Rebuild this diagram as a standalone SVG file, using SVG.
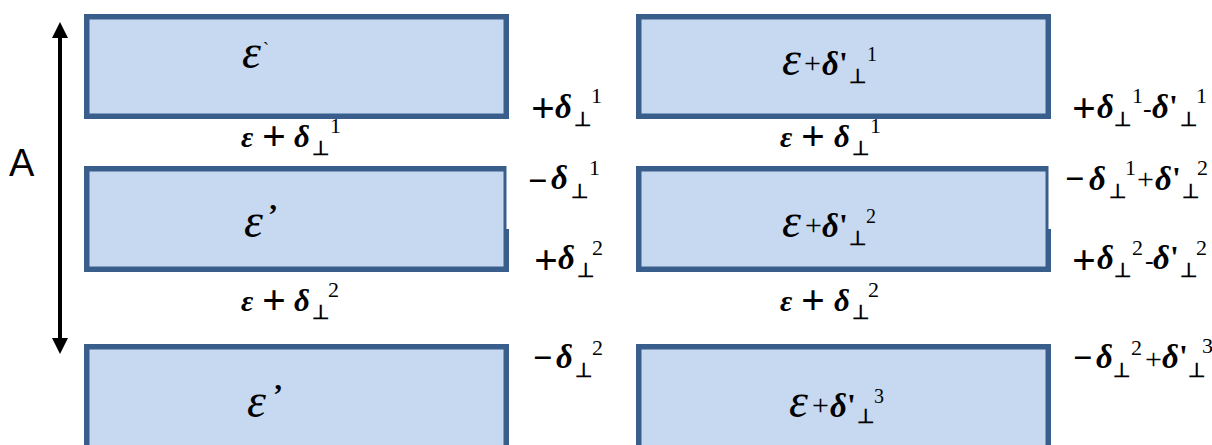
<svg xmlns="http://www.w3.org/2000/svg" width="1212" height="445" viewBox="0 0 1212 445">
<style>
.box{fill:#C6D9F1;stroke:#3A5E8B;stroke-width:5.5}
.notch{fill:#FFFFFF}
.eb{font-style:italic;font-size:48px}
.es{font-style:italic;font-weight:bold;font-size:30px}
.d{font-style:italic;font-weight:bold;font-size:33px}
.ds{font-style:italic;font-weight:bold;font-size:31px}
.pb{font-weight:bold;font-size:42px}
.pr{font-size:30px}
.mn{font-weight:bold;font-size:34px}
.hy{font-size:26px}
.pp{font-size:20px;font-weight:bold}
.sp{font-size:22px}
.sb{font-size:20px}
.pm{font-weight:bold;font-size:32px}
.ap{font-weight:bold;font-size:30px}
.tk{font-size:18px}
.arr{stroke:#000;stroke-width:4;fill:none}
</style>
<defs>
<marker id="ah" viewBox="0 0 16 16" refX="8" refY="8" markerWidth="16" markerHeight="16" markerUnits="userSpaceOnUse" orient="auto-start-reverse">
<path d="M0,0 L16,8 L0,16 Z" fill="#000"/>
</marker>
</defs>

<g id="connectors">
<line class="arr" x1="60" y1="30" x2="60" y2="346" marker-start="url(#ah)" marker-end="url(#ah)"/>
</g>

<g id="axis-label">
<text font-family="Liberation Sans, Arial, sans-serif" font-size="38" x="9" y="176">A</text>
</g>

<g font-family="Liberation Serif, Times New Roman, serif">
<g id="left-box-1">
<rect class="box" x="86.75" y="16.75" width="419.5" height="99.5"/>
<text><tspan class="eb" x="242" y="68">ε</tspan><tspan class="tk" x="263" y="55">`</tspan></text>
</g>
<g id="left-box-2">
<rect class="box" x="86.75" y="168.75" width="419.5" height="100.5"/>
<rect class="notch" x="506.5" y="163" width="4" height="66"/>
<text><tspan class="eb" x="244" y="237">ε</tspan><tspan class="ap" x="268" y="224">’</tspan></text>
</g>
<g id="left-box-3">
<rect class="box" x="86.75" y="346.75" width="419.5" height="110"/>
<text><tspan class="eb" x="247" y="417">ε</tspan><tspan class="ap" x="273" y="404">’</tspan></text>
</g>

<g id="right-box-1">
<rect class="box" x="638.75" y="16.75" width="409.5" height="99.5"/>
<text><tspan class="eb" x="782" y="75">ε</tspan><tspan class="pr" x="804" y="73">+</tspan><tspan class="d" x="822" y="75">δ</tspan><tspan class="pm" x="839" y="74">'</tspan><tspan class="pp" x="849" y="83">⊥</tspan><tspan class="sb" x="867" y="61">1</tspan></text>
</g>
<g id="right-box-2">
<rect class="box" x="638.75" y="168.75" width="409.5" height="100.5"/>
<rect class="notch" x="1048.5" y="163" width="4" height="66"/>
<text><tspan class="eb" x="782" y="237">ε</tspan><tspan class="pr" x="805" y="235">+</tspan><tspan class="d" x="822" y="237">δ</tspan><tspan class="pm" x="839" y="236">'</tspan><tspan class="pp" x="849" y="245">⊥</tspan><tspan class="sb" x="866" y="223">2</tspan></text>
</g>
<g id="right-box-3">
<rect class="box" x="638.75" y="346.75" width="409.5" height="110"/>
<text><tspan class="eb" x="789" y="417">ε</tspan><tspan class="pr" x="812" y="415">+</tspan><tspan class="d" x="830" y="417">δ</tspan><tspan class="pm" x="847" y="416">'</tspan><tspan class="pp" x="857" y="423">⊥</tspan><tspan class="sb" x="874" y="403">3</tspan></text>
</g>

<g id="gap-labels">
<text><tspan class="es" x="241" y="147">ε</tspan><tspan class="pb" x="262" y="150">+</tspan><tspan class="ds" x="294" y="147">δ</tspan><tspan class="pp" x="312" y="155">⊥</tspan><tspan class="sp" x="330" y="133">1</tspan></text>
<text><tspan class="es" x="241" y="311">ε</tspan><tspan class="pb" x="262" y="314">+</tspan><tspan class="ds" x="294" y="311">δ</tspan><tspan class="pp" x="312" y="319">⊥</tspan><tspan class="sp" x="328" y="297">2</tspan></text>
<text><tspan class="es" x="780" y="147">ε</tspan><tspan class="pb" x="801" y="150">+</tspan><tspan class="ds" x="834" y="147">δ</tspan><tspan class="pp" x="852" y="155">⊥</tspan><tspan class="sp" x="870" y="133">1</tspan></text>
<text><tspan class="es" x="780" y="311">ε</tspan><tspan class="pb" x="801" y="314">+</tspan><tspan class="ds" x="834" y="311">δ</tspan><tspan class="pp" x="852" y="319">⊥</tspan><tspan class="sp" x="868" y="297">2</tspan></text>
</g>

<g id="left-side-labels">
<text><tspan class="pb" x="531" y="122">+</tspan><tspan class="d" x="555" y="118">δ</tspan><tspan class="pp" x="574" y="126">⊥</tspan><tspan class="sp" x="591" y="103">1</tspan></text>
<text><tspan class="mn" x="528" y="192">−</tspan><tspan class="d" x="551" y="189">δ</tspan><tspan class="pp" x="571" y="198">⊥</tspan><tspan class="sp" x="589" y="175">1</tspan></text>
<text><tspan class="pb" x="534" y="274">+</tspan><tspan class="d" x="558" y="269">δ</tspan><tspan class="pp" x="577" y="277">⊥</tspan><tspan class="sp" x="592" y="255">2</tspan></text>
<text><tspan class="mn" x="533" y="369">−</tspan><tspan class="d" x="556" y="368">δ</tspan><tspan class="pp" x="575" y="377">⊥</tspan><tspan class="sp" x="592" y="355">2</tspan></text>
</g>

<g id="right-side-labels">
<text><tspan class="pb" x="1072" y="122">+</tspan><tspan class="d" x="1097" y="118">δ</tspan><tspan class="pp" x="1114" y="126">⊥</tspan><tspan class="sp" x="1132" y="103">1</tspan><tspan class="hy" x="1143" y="117">-</tspan><tspan class="d" x="1152" y="118">δ</tspan><tspan class="pm" x="1169" y="117">'</tspan><tspan class="pp" x="1180" y="126">⊥</tspan><tspan class="sp" x="1196" y="103">1</tspan></text>
<text><tspan class="mn" x="1065" y="190">−</tspan><tspan class="d" x="1089" y="190">δ</tspan><tspan class="pp" x="1109" y="198">⊥</tspan><tspan class="sp" x="1125" y="175">1</tspan><tspan class="pr" x="1137" y="189">+</tspan><tspan class="d" x="1155" y="190">δ</tspan><tspan class="pm" x="1172" y="189">'</tspan><tspan class="pp" x="1182" y="198">⊥</tspan><tspan class="sp" x="1197" y="175">2</tspan></text>
<text><tspan class="pb" x="1072" y="274">+</tspan><tspan class="d" x="1097" y="269">δ</tspan><tspan class="pp" x="1114" y="277">⊥</tspan><tspan class="sp" x="1132" y="255">2</tspan><tspan class="hy" x="1145" y="269">-</tspan><tspan class="d" x="1153" y="269">δ</tspan><tspan class="pm" x="1170" y="268">'</tspan><tspan class="pp" x="1180" y="277">⊥</tspan><tspan class="sp" x="1196" y="255">2</tspan></text>
<text><tspan class="mn" x="1073" y="369">−</tspan><tspan class="d" x="1096" y="368">δ</tspan><tspan class="pp" x="1113" y="377">⊥</tspan><tspan class="sp" x="1131" y="355">2</tspan><tspan class="pr" x="1145" y="369">+</tspan><tspan class="d" x="1162" y="368">δ</tspan><tspan class="pm" x="1179" y="367">'</tspan><tspan class="pp" x="1188" y="377">⊥</tspan><tspan class="sp" x="1202" y="353">3</tspan></text>
</g>
</g>
</svg>
